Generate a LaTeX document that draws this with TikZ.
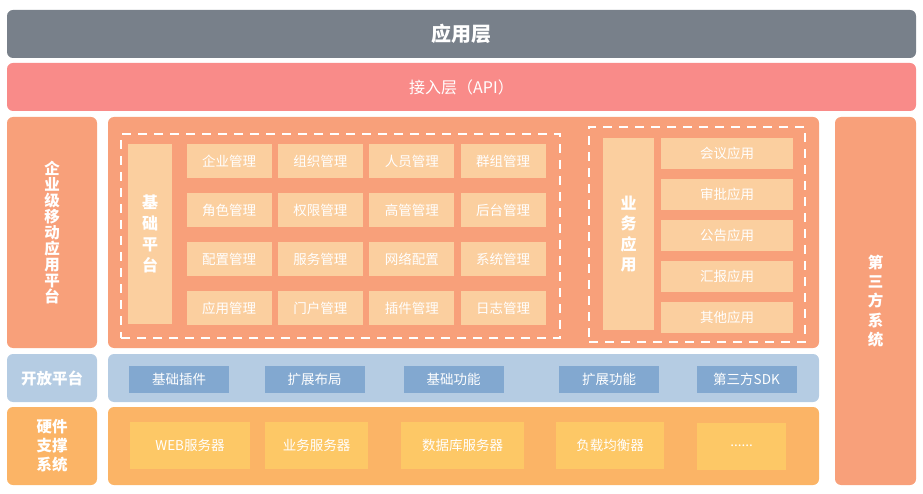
\documentclass[tikz,border=0pt]{standalone}
\usepackage{fontspec}
\setmainfont{Noto Sans CJK SC}
\usepackage{xcolor}
\usetikzlibrary{positioning}
\definecolor{topgray}{HTML}{78808A}
\definecolor{apipink}{HTML}{F98B89}
\definecolor{salmon}{HTML}{F8A07A}
\definecolor{peach}{HTML}{FBCF9F}
\definecolor{paleblue}{HTML}{B5CCE3}
\definecolor{midblue}{HTML}{82A8D0}
\definecolor{hwor}{HTML}{FBB466}
\definecolor{hwyel}{HTML}{FDC866}

\begin{document}
\begin{tikzpicture}[x=1pt,y=-1pt,node distance=6pt,
  layer/.style={rounded corners=6pt,inner sep=0pt,text=white,align=center},
  side/.style={layer,minimum width=90pt,font=\fontsize{15.5}{16}\selectfont\bfseries},
  item/.style={inner sep=0pt,text=white,align=center,font=\fontsize{13.5}{16}\selectfont},
  mgmt/.style={item,fill=peach,minimum width=85pt,minimum height=34pt},
  app/.style={item,fill=peach,minimum width=132pt,minimum height=31pt},
  plug/.style={item,fill=midblue,minimum width=100pt,minimum height=27pt},
  srv/.style={item,fill=hwyel,minimum height=47pt},
  dashbox/.style={draw=white,line width=2pt,dash pattern=on 9pt off 7pt,inner sep=0pt}]
\useasboundingbox (0,0) rectangle (923,494);
\node[layer,fill=topgray,minimum width=909pt,minimum height=48pt,font=\fontsize{20}{22}\selectfont\bfseries] (app layer) at (461.5,34) {应用层};
\node[layer,fill=apipink,minimum width=909pt,minimum height=48pt,font=\fontsize{16}{18}\selectfont] (api) at (461.5,87) {接入层（API）};
\node[side,fill=salmon,minimum height=231pt] (ent) at (52,232.5) {企\\业\\级\\移\\动\\应\\用\\平\\台};
\node[layer,fill=salmon,minimum width=711pt,minimum height=231pt] (core) at (463.5,232.5) {};
\node[layer,fill=salmon,minimum width=81pt,minimum height=368pt,font=\fontsize{15.5}{19.3}\selectfont\bfseries] (third) at (875.5,301) {第\\三\\方\\系\\统};
\node[side,fill=paleblue,minimum height=48pt] (open) at (52,378) {开放平台};
\node[layer,fill=paleblue,minimum width=711pt,minimum height=48pt] (openbar) at (463.5,378) {};
\node[side,fill=hwor,minimum height=78pt,font=\fontsize{15.5}{19}\selectfont\bfseries] (hw) at (52,446) {硬件\\支撑\\系统};
\node[layer,fill=hwor,minimum width=711pt,minimum height=78pt] (hwbar) at (463.5,446) {};

\node[dashbox,minimum width=439pt,minimum height=204pt] (basebox) at (340.5,236) {};
\node[item,fill=peach,minimum width=44pt,minimum height=180pt,font=\fontsize{16}{21}\selectfont\bfseries] (base) at (150,234) {基\\础\\平\\台};
\node[mgmt] (m11) at (229,161.5) {企业管理};
\node[mgmt,right=of m11] (m12) {组织管理};
\node[mgmt,right=of m12] (m13) {人员管理};
\node[mgmt,right=of m13] (m14) {群组管理};
\node[mgmt,below=14.5pt of m11] (m21) {角色管理};
\node[mgmt,right=of m21] (m22) {权限管理};
\node[mgmt,right=of m22] (m23) {高管管理};
\node[mgmt,right=of m23] (m24) {后台管理};
\node[mgmt,below=14.5pt of m21] (m31) {配置管理};
\node[mgmt,right=of m31] (m32) {服务管理};
\node[mgmt,right=of m32] (m33) {网络配置};
\node[mgmt,right=of m33] (m34) {系统管理};
\node[mgmt,below=14.5pt of m31] (m41) {应用管理};
\node[mgmt,right=of m41] (m42) {门户管理};
\node[mgmt,right=of m42] (m43) {插件管理};
\node[mgmt,right=of m43] (m44) {日志管理};

\node[dashbox,minimum width=216pt,minimum height=215pt] (bizbox) at (697,234.5) {};
\node[item,fill=peach,minimum width=51pt,minimum height=192pt,font=\fontsize{16}{20.3}\selectfont\bfseries] (biz) at (628.5,234) {业\\务\\应\\用};
\node[app] (a1) at (727,153.5) {会议应用};
\node[app,below=9.5pt of a1] (a2) {审批应用};
\node[app,below=9.5pt of a2] (a3) {公告应用};
\node[app,below=9.5pt of a3] (a4) {汇报应用};
\node[app,below=9.5pt of a4] (a5) {其他应用};

\node[plug] (p1) at (179,379.5) {基础插件};
\node[plug] (p2) at (314.5,379.5) {扩展布局};
\node[plug] (p3) at (453.5,379.5) {基础功能};
\node[plug] (p4) at (609,379.5) {扩展功能};
\node[plug] (p5) at (746.5,379.5) {第三方SDK};

\node[srv,minimum width=120pt] (s1) at (190,445.5) {WEB服务器};
\node[srv,minimum width=103pt] (s2) at (316.5,445) {业务服务器};
\node[srv,minimum width=123pt] (s3) at (462.5,445) {数据库服务器};
\node[srv,minimum width=108pt] (s4) at (610,445) {负载均衡器};
\node[srv,minimum width=89pt] (s5) at (741.5,446) {......};
\end{tikzpicture}
\end{document}
